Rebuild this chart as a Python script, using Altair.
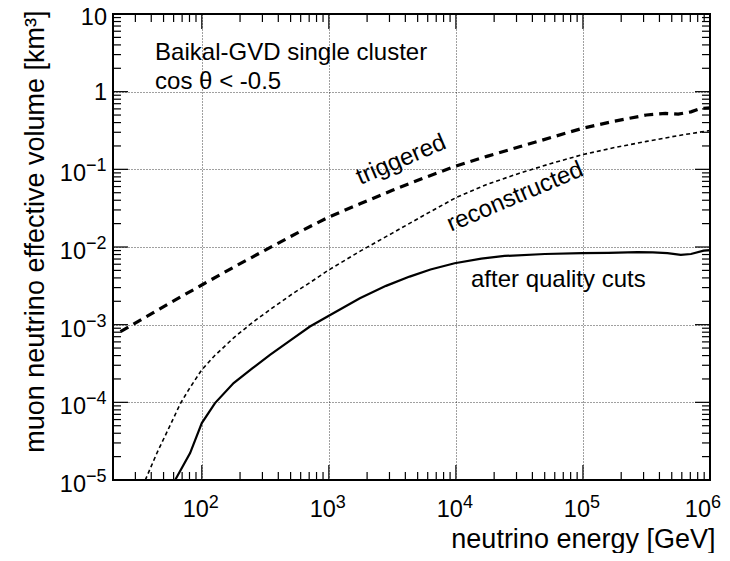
import altair as alt
import pandas as pd
import math

# ---------------- data ----------------
trig_energy = [22.9, 31.6, 56.2, 100, 178, 316, 562, 1000, 1778, 3162, 5623, 1.0e4,
               17783, 31623, 56234, 1.0e5, 177828, 316228, 446684, 562341, 707946, 851138, 1.0e6]
trig_volume = [8.13e-4, 1.10e-3, 1.91e-3, 3.24e-3, 5.50e-3, 9.12e-3, 0.0151, 0.0243, 0.0363,
               0.0537, 0.0776, 0.110, 0.148, 0.195, 0.257, 0.339, 0.417, 0.501, 0.525, 0.513,
               0.550, 0.610, 0.617]

reco_energy = [35.9, 44.7, 56.2, 67.6, 79.4, 100, 126, 178, 251, 355, 525, 708, 1000, 1778,
               3162, 5623, 1.0e4, 17783, 31623, 56234, 1.0e5, 177828, 316228, 562341, 1.0e6]
reco_volume = [1.0e-5, 2.29e-5, 5.01e-5, 9.55e-5, 1.48e-4, 2.63e-4, 3.98e-4, 6.76e-4, 1.07e-3,
               1.62e-3, 2.54e-3, 3.47e-3, 5.07e-3, 8.91e-3, 0.0151, 0.0257, 0.0432, 0.0646,
               0.0891, 0.119, 0.155, 0.191, 0.229, 0.272, 0.316]

cuts_energy = [61.7, 80.9, 100, 127, 178, 251, 344, 501, 710, 1000, 1754, 2818, 4325, 6310,
               9772, 15849, 24155, 50119, 98401, 158489, 269153, 354813, 462381, 588844,
               707946, 891251, 1.0e6]
cuts_volume = [1.0e-5, 2.22e-5, 5.40e-5, 9.77e-5, 1.77e-4, 2.75e-4, 4.08e-4, 6.31e-4, 9.46e-4,
               1.30e-3, 2.19e-3, 3.16e-3, 4.16e-3, 5.13e-3, 6.18e-3, 7.08e-3, 7.67e-3, 8.13e-3,
               8.32e-3, 8.41e-3, 8.57e-3, 8.51e-3, 8.32e-3, 7.94e-3, 8.13e-3, 8.97e-3, 9.12e-3]

# tick labels (base "10" with an exponent, ROOT style)
x_major = [1e2, 1e3, 1e4, 1e5, 1e6]
x_exponents = ["2", "3", "4", "5", "6"]
y_major = [1e-5, 1e-4, 1e-3, 1e-2, 1e-1]
y_exponents = ["\u22125", "\u22124", "\u22123", "\u22122", "\u22121"]
y_plain = [1, 10]
y_plain_labels = ["1", "10"]

note_text = ["Baikal-GVD single cluster", "cos \u03b8 < -0.5"]
note_energy = [42.9, 42.9]
note_volume = [2.52, 1.07]

curve_text = ["triggered", "reconstructed"]
curve_energy = [3707, 29300]
curve_volume = [0.132, 0.0441]

cut_text = ["after quality cuts"]
cut_energy = [64000]
cut_volume = [3.06e-3]

# ---------------- layout ----------------
W, H = 597, 466
XMIN, XMAX = 20, 1e6
YMIN, YMAX = 1e-5, 10
FONT = "Liberation Sans"
MAJ, MIN = 15, 8
LBL, EXP = 23.5, 18

xs = alt.Scale(type="log", domain=[XMIN, XMAX], nice=False)
ys = alt.Scale(type="log", domain=[YMIN, YMAX], nice=False)

grid_common = dict(grid=True, gridDash=[1, 2], gridColor="black", gridOpacity=0.75, gridWidth=1,
                   ticks=False, domain=False, labels=False)
x_axis = alt.Axis(values=x_major, **grid_common,
                  title="neutrino energy [GeV]", titleFont=FONT, titleFontSize=27,
                  titleFontWeight="normal", titleColor="black", titleAlign="right",
                  titleAnchor="end", titleBaseline="alphabetic", titleX=602, titleY=67)
y_axis = alt.Axis(values=y_major + y_plain, **grid_common,
                  title="muon neutrino effective volume [km\u00b3]", titleFont=FONT,
                  titleFontSize=27, titleFontWeight="normal", titleColor="black",
                  titleAngle=270, titleAlign="right", titleBaseline="alphabetic",
                  titleX=-70, titleY=-4)

X = lambda f: alt.X(f, scale=xs, axis=x_axis)
Y = lambda f: alt.Y(f, scale=ys, axis=y_axis)


def series(energy, volume, **kw):
    return alt.Chart(pd.DataFrame({"E": energy, "V": volume})).mark_line(
        color="black", clip=True, **kw).encode(x=X("E:Q"), y=Y("V:Q"))


trig = series(trig_energy, trig_volume, strokeWidth=3.2, strokeDash=[9, 6])
reco = series(reco_energy, reco_volume, strokeWidth=1.6, strokeDash=[4, 3])
cuts = series(cuts_energy, cuts_volume, strokeWidth=2.2)

# tick marks (ROOT style, inside, on all four sides)
x_ticks_major, x_ticks_minor = [], []
for d in range(1, 7):
    for m in range(1, 10):
        v = m * 10 ** d
        if XMIN <= v <= XMAX:
            (x_ticks_major if m == 1 else x_ticks_minor).append(v)
y_ticks_major, y_ticks_minor = [], []
for d in range(-5, 2):
    for m in range(1, 10):
        v = m * 10.0 ** d
        if YMIN * 0.9999 <= v <= YMAX * 1.0001:
            (y_ticks_major if m == 1 else y_ticks_minor).append(v)

layers = []
for vals, L in [(x_ticks_major, MAJ), (x_ticks_minor, MIN)]:
    df = pd.DataFrame({"E": vals})
    layers.append(alt.Chart(df).mark_rule(color="black", strokeWidth=1.2).encode(
        x=X("E:Q"), y=alt.value(H), y2=alt.value(H - L)))
    layers.append(alt.Chart(df).mark_rule(color="black", strokeWidth=1.2).encode(
        x=X("E:Q"), y=alt.value(0), y2=alt.value(L)))
for vals, L in [(y_ticks_major, MAJ), (y_ticks_minor, MIN)]:
    df = pd.DataFrame({"V": vals})
    layers.append(alt.Chart(df).mark_rule(color="black", strokeWidth=1.2).encode(
        y=Y("V:Q"), x=alt.value(0), x2=alt.value(L)))
    layers.append(alt.Chart(df).mark_rule(color="black", strokeWidth=1.2).encode(
        y=Y("V:Q"), x=alt.value(W), x2=alt.value(W - L)))

# x tick labels: "10" + exponent (last one nudged left to stay on the page)
xl = pd.DataFrame({"E": x_major, "b": ["10"] * len(x_major), "e": x_exponents})
for sub, shift in [(xl.iloc[:-1], 0), (xl.iloc[-1:], -6)]:
    layers.append(alt.Chart(sub).mark_text(font=FONT, fontSize=LBL, align="right",
                                           baseline="alphabetic", dx=7 + shift, color="black").encode(
        x=X("E:Q"), y=alt.value(H + 37), text="b:N"))
    layers.append(alt.Chart(sub).mark_text(font=FONT, fontSize=EXP, align="left",
                                           baseline="alphabetic", dx=7 + shift, color="black").encode(
        x=X("E:Q"), y=alt.value(H + 28), text="e:N"))

# y tick labels
yl = pd.DataFrame({"V": y_major, "b": ["10"] * len(y_major), "e": y_exponents})
layers.append(alt.Chart(yl).mark_text(font=FONT, fontSize=LBL, align="right",
                                      baseline="alphabetic", dy=12, color="black").encode(
    y=Y("V:Q"), x=alt.value(-27), text="b:N"))
layers.append(alt.Chart(yl).mark_text(font=FONT, fontSize=EXP, align="left",
                                      baseline="alphabetic", dy=2, color="black").encode(
    y=Y("V:Q"), x=alt.value(-27), text="e:N"))
yp = pd.DataFrame({"V": y_plain, "t": y_plain_labels})
layers.append(alt.Chart(yp.iloc[:1]).mark_text(font=FONT, fontSize=LBL, align="right",
                                               baseline="alphabetic", dy=8.5, color="black").encode(
    y=Y("V:Q"), x=alt.value(-6), text="t:N"))
layers.append(alt.Chart(yp.iloc[1:]).mark_text(font=FONT, fontSize=LBL, align="right",
                                               baseline="alphabetic", dy=10.5, color="black").encode(
    y=Y("V:Q"), x=alt.value(-6), text="t:N"))

notes = alt.Chart(pd.DataFrame({"t": note_text, "E": note_energy, "V": note_volume})).mark_text(
    font=FONT, fontSize=24, align="left", baseline="alphabetic", color="black").encode(
    x=X("E:Q"), y=Y("V:Q"), text="t:N")

curve_labels = alt.Chart(pd.DataFrame({"t": curve_text, "E": curve_energy, "V": curve_volume})).mark_text(
    font=FONT, fontSize=24, align="center", baseline="middle", angle=337, color="black").encode(
    x=X("E:Q"), y=Y("V:Q"), text="t:N")

cut_label = alt.Chart(pd.DataFrame({"t": cut_text, "E": cut_energy, "V": cut_volume})).mark_text(
    font=FONT, fontSize=24, align="center", baseline="alphabetic", color="black").encode(
    x=X("E:Q"), y=Y("V:Q"), text="t:N")

chart = alt.layer(trig, reco, cuts, *layers, notes, curve_labels, cut_label).properties(
    width=W, height=H,
    autosize=alt.AutoSizeParams(type="none"),
    padding={"left": 105, "top": 6, "right": 12, "bottom": 73},
    background="white",
).configure_view(stroke="black", strokeWidth=2)

chart.save("out.html", embed_options={"renderer": "svg", "actions": False})
